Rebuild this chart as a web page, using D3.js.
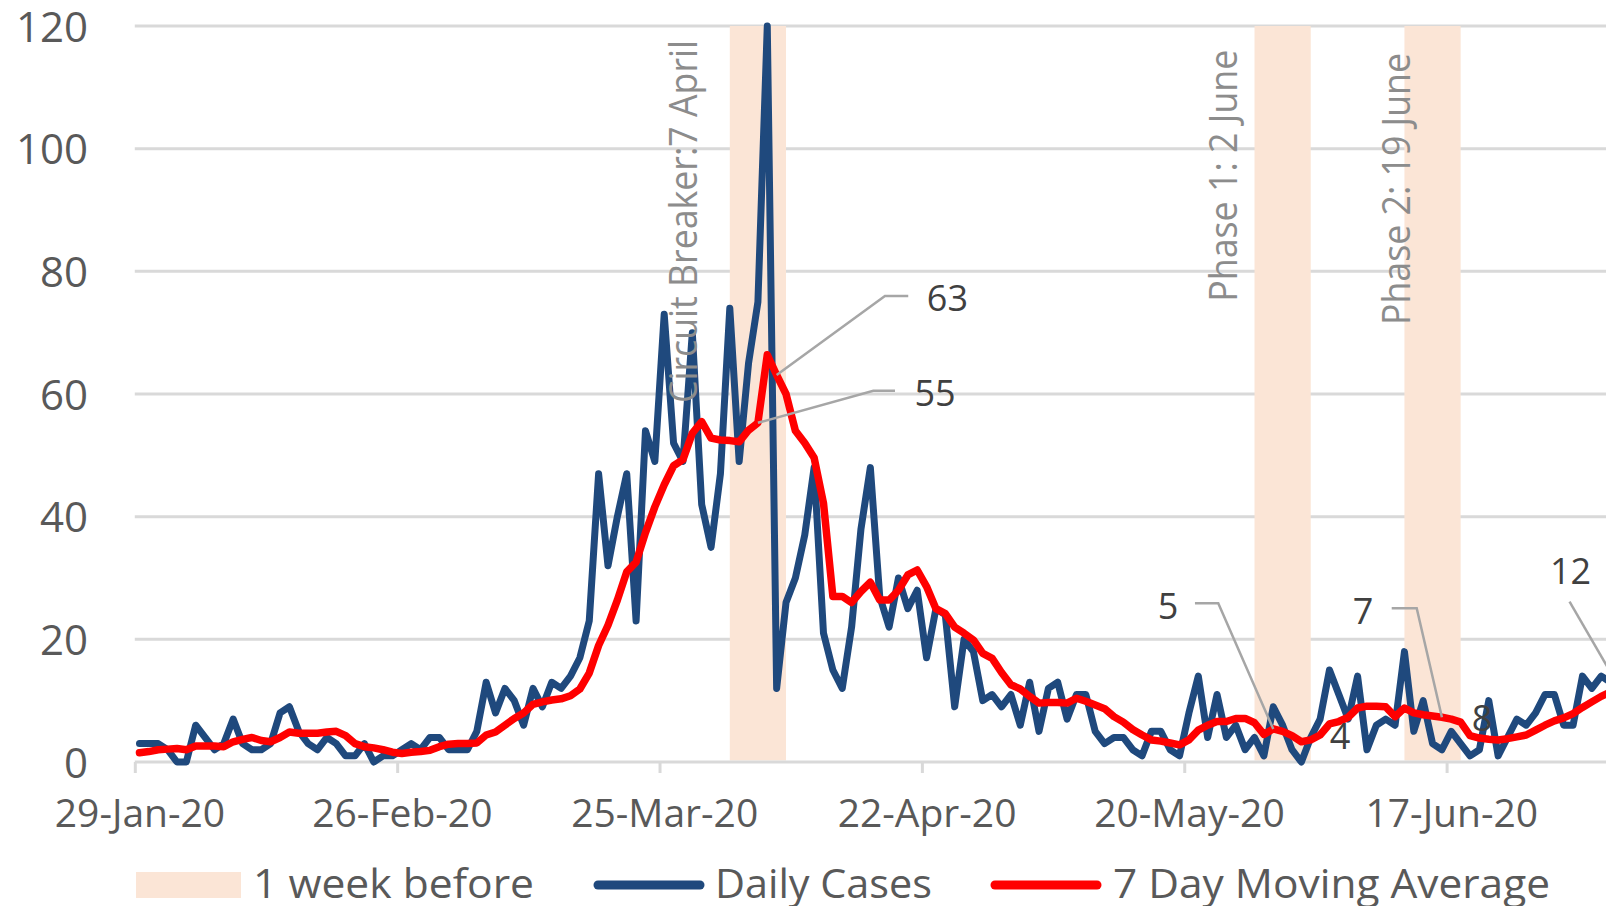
<!DOCTYPE html>
<html>
<head>
<meta charset="utf-8">
<script src="https://cdn.jsdelivr.net/npm/d3@7"></script>
<style>
  html, body { margin: 0; padding: 0; background: #ffffff; overflow: hidden; }
  svg { display: block; font-family: "Open Sans", "Noto Sans", sans-serif; }
</style>
</head>
<body>
<svg id="chart" width="1606" height="906"></svg>
<script>
// ---- data -------------------------------------------------------------
const startDate = "2020-01-29";

// daily new cases, one value per day starting 29 Jan 2020
const dailyCases = [
  3, 3, 3, 2, 0, 0, 6, 4, 2, 3, 7, 3, 2, 2, 3, 8, 9, 5, 3, 2,
  4, 3, 1, 1, 3, 0, 1, 1, 2, 3, 2, 4, 4, 2, 2, 2, 5, 13, 8, 12,
  10, 6, 12, 9, 13, 12, 14, 17, 23, 47, 32, 40, 47, 23, 54, 49, 73, 52, 49, 70,
  42, 35, 47, 74, 49, 65, 75, 120, 12, 26, 30, 37, 48, 21, 15, 12, 22, 38, 48, 27,
  22, 30, 25, 28, 17, 25, 24, 9, 20, 18, 10, 11, 9, 11, 6, 13, 5, 12, 13, 7,
  11, 11, 5, 3, 4, 4, 2, 1, 5, 5, 2, 1, 8, 14, 4, 11, 4, 6, 2, 4,
  1, 9, 6, 2, 0, 4, 7, 15, 11, 7, 14, 2, 6, 7, 6, 18, 5, 10, 3, 2,
  5, 3, 1, 2, 10, 1, 4, 7, 6, 8, 11, 11, 6, 6, 14, 12, 14, 13
];

// 7 day moving average, same days
const movingAverage = [
  1.5, 1.7, 2.0, 2.1, 2.2, 2.0, 2.6, 2.6, 2.6, 2.5, 3.3, 3.7, 4.0, 3.5, 3.3, 4.0, 4.9, 4.7, 4.7, 4.7,
  4.9, 5.0, 4.3, 3.0, 2.5, 2.3, 2.0, 1.6, 1.4, 1.6, 1.7, 1.9, 2.5, 2.9, 3.0, 3.0, 3.1, 4.4, 4.9, 6.0,
  7.1, 8.0, 9.4, 9.8, 10.1, 10.3, 10.8, 11.9, 14.5, 19.0, 22.3, 26.4, 31.0, 32.6, 37.4, 41.6, 45.2, 48.3, 49.3, 53.6,
  55.5, 52.8, 52.5, 52.4, 52.2, 54.1, 55.3, 66.4, 63.1, 60.0, 54.0, 52.0, 49.6, 42.2, 27.0, 27.0, 26.0, 27.8, 29.3, 26.4,
  26.4, 28.0, 30.5, 31.3, 28.6, 25.0, 24.2, 22.0, 21.0, 19.9, 17.7, 16.9, 14.6, 12.6, 11.9, 10.7, 9.6, 9.7, 9.7, 9.6,
  10.4, 9.9, 9.3, 8.7, 7.4, 6.5, 5.3, 4.4, 3.6, 3.4, 3.1, 2.8, 3.6, 5.2, 6.0, 6.6, 6.6, 7.1, 7.1, 6.4,
  4.5, 5.4, 5.0, 4.3, 3.3, 3.6, 4.4, 6.2, 6.6, 7.3, 8.8, 9.1, 9.1, 9.0, 7.4, 8.8, 8.0, 7.7, 7.5, 7.3,
  7.0, 6.5, 4.3, 3.9, 3.7, 3.6, 3.8, 4.1, 4.4, 5.2, 6.0, 6.7, 7.2, 7.9, 8.9, 9.8, 10.7, 11.4, 12.0
];

const xTickLabels = ["29-Jan-20", "26-Feb-20", "25-Mar-20", "22-Apr-20", "20-May-20", "17-Jun-20"];
const yTickValues = [0, 20, 40, 60, 80, 100, 120];

// shaded week before each reopening step
const bandStarts = ["2020-04-01T12:00Z", "2020-05-27T12:00Z", "2020-06-12T12:00Z"];
const bandEnds   = ["2020-04-07T12:00Z", "2020-06-02T12:00Z", "2020-06-18T12:00Z"];
const bandTitles = ["Circuit Breaker:7 April", "Phase 1: 2 June", "Phase 2: 19 June"];

// moving-average values called out on the chart (day index into the series)
const labelDays  = [66, 68, 121, 125, 139, 136, 158];

const legendNames = ["1 week before", "Daily Cases", "7 Day Moving Average"];

// ---- layout & style ---------------------------------------------------
const W = 1606, H = 906;
const plot = { left: 134.8, top: 26, bottom: 762, dayWidth: 9.37 };
const colors = {
  band: "#FBE5D6", daily: "#1F497D", avg: "#FF0000",
  grid: "#D9D9D9", tick: "#595959", note: "#8C8C8C", value: "#404040", leader: "#A6A6A6"
};

const parseDay = d3.utcParse("%Y-%m-%d");
const parseTick = d3.utcParse("%d-%b-%y");
const start = parseDay(startDate);
const domainEnd = d3.utcDay.offset(start, 168);

const x = d3.scaleUtc()
  .domain([start, domainEnd])
  .range([plot.left, plot.left + plot.dayWidth * 168]);
const y = d3.scaleLinear().domain([0, 120]).range([plot.bottom, plot.top]);

// each day's point sits in the middle of its day slot
const dayCenter = i => d3.utcHour.offset(d3.utcDay.offset(start, i), 12);

const svg = d3.select("#chart");

// horizontal gridlines
svg.append("g").selectAll("line").data(yTickValues.filter(v => v > 0)).join("line")
  .attr("x1", plot.left).attr("x2", W)
  .attr("y1", d => y(d)).attr("y2", d => y(d))
  .attr("stroke", colors.grid).attr("stroke-width", 3);

// shaded bands
const bands = bandStarts.map((s, i) => ({ from: new Date(s), to: new Date(bandEnds[i]), title: bandTitles[i] }));
svg.append("g").selectAll("rect").data(bands).join("rect")
  .attr("x", d => x(d.from)).attr("width", d => x(d.to) - x(d.from))
  .attr("y", y(120)).attr("height", y(0) - y(120) - 1.5)
  .attr("fill", colors.band);

// x axis: baseline, ticks and labels
const tickDates = xTickLabels.map(parseTick);
const xAxis = d3.axisBottom(x)
  .tickValues(tickDates)
  .tickSize(11)
  .tickFormat((d, i) => xTickLabels[i]);
const gx = svg.append("g").attr("transform", `translate(0,${plot.bottom})`).call(xAxis);
gx.select(".domain").remove();
gx.selectAll(".tick line").attr("stroke", colors.grid).attr("stroke-width", 3);
gx.selectAll(".tick text")
  .attr("fill", colors.tick).attr("font-size", 39).attr("font-family", "Open Sans")
  .attr("x", plot.dayWidth / 2).attr("y", 65).attr("dy", 0);
svg.append("line")
  .attr("x1", plot.left).attr("x2", W).attr("y1", y(0)).attr("y2", y(0))
  .attr("stroke", colors.grid).attr("stroke-width", 3);

// y axis labels
const yAxis = d3.axisLeft(y).tickValues(yTickValues).tickSize(0).tickPadding(0);
const gy = svg.append("g").attr("transform", "translate(88,0)").call(yAxis);
gy.select(".domain").remove();
gy.selectAll(".tick text")
  .attr("fill", colors.tick).attr("font-size", 42).attr("font-family", "Open Sans")
  .attr("dy", "0.36em");

// series lines
const lineGen = d3.line().x((d, i) => x(dayCenter(i))).y(d => y(d));
svg.append("path").datum(dailyCases)
  .attr("d", lineGen).attr("fill", "none")
  .attr("stroke", colors.daily).attr("stroke-width", 7)
  .attr("stroke-linejoin", "round").attr("stroke-linecap", "round");
svg.append("path").datum(movingAverage)
  .attr("d", lineGen).attr("fill", "none")
  .attr("stroke", colors.avg).attr("stroke-width", 7.5)
  .attr("stroke-linejoin", "round").attr("stroke-linecap", "round");

// vertical event notes
const notePlacement = [
  { dx: -32.8, base: 403, length: 363 },
  { dx: -17.8, base: 301.7, length: 252 },
  { dx: 5.6, base: 325, length: 272 }
];
svg.append("g").selectAll("text").data(bands).join("text")
  .attr("transform", (d, i) => `translate(${x(d.from) + notePlacement[i].dx},${notePlacement[i].base}) rotate(-90)`)
  .attr("font-size", 39).attr("fill", colors.note)
  .attr("textLength", (d, i) => notePlacement[i].length)
  .attr("lengthAdjust", "spacingAndGlyphs")
  .text(d => d.title);

// value callouts on the moving average
const calloutPlacement = [
  { text: [177.1, -29.8], leader: [[115.4, -32.1], [137.1, -32.1]] },
  { text: [170.8, -77.0], leader: [[108.3, -79.0], [131.6, -79.0]] },
  { text: [-105.3, -122.9], leader: [[-55.0, -125.6], [-78.3, -125.6]] },
  { text: [29.3, -3.9], leader: null },
  { text: [-78.9, -106.2], leader: [[-25.2, -108.9], [-50.2, -108.9]] },
  { text: [68.2, 5.1], leader: null },
  { text: [-49.4, -117.4], leader: [[-50.4, -86.7]] }
];
const callouts = labelDays.map((day, i) => ({
  px: x(dayCenter(day)), py: y(movingAverage[day]),
  text: String(Math.round(movingAverage[day])), place: calloutPlacement[i]
}));
const cg = svg.append("g");
callouts.forEach(c => {
  if (c.place.leader) {
    const pts = [[c.px, c.py]].concat(c.place.leader.map(p => [c.px + p[0], c.py + p[1]]));
    cg.append("path").attr("d", d3.line()(pts)).attr("fill", "none")
      .attr("stroke", colors.leader).attr("stroke-width", 2.5);
  }
  cg.append("text")
    .attr("x", c.px + c.place.text[0]).attr("y", c.py + c.place.text[1])
    .attr("dy", "0.36em").attr("text-anchor", "middle")
    .attr("font-size", 36).attr("fill", colors.value)
    .text(c.text);
});

// legend
const legendText = [
  { x: 253, len: 281 },
  { x: 715, len: 217 },
  { x: 1113, len: 437 }
];
const lg = svg.append("g");
lg.append("rect").attr("x", 136).attr("y", 872).attr("width", 105).attr("height", 26).attr("fill", colors.band);
lg.append("line").attr("x1", 598).attr("x2", 700).attr("y1", 885).attr("y2", 885)
  .attr("stroke", colors.daily).attr("stroke-width", 9).attr("stroke-linecap", "round");
lg.append("line").attr("x1", 995).attr("x2", 1097).attr("y1", 885).attr("y2", 885)
  .attr("stroke", colors.avg).attr("stroke-width", 9).attr("stroke-linecap", "round");
lg.selectAll("text.legend").data(legendNames).join("text")
  .attr("class", "legend")
  .attr("x", (d, i) => legendText[i].x).attr("y", 898)
  .attr("font-size", 41).attr("fill", colors.tick)
  .attr("textLength", (d, i) => legendText[i].len)
  .attr("lengthAdjust", "spacingAndGlyphs")
  .text(d => d);
</script>
</body>
</html>
